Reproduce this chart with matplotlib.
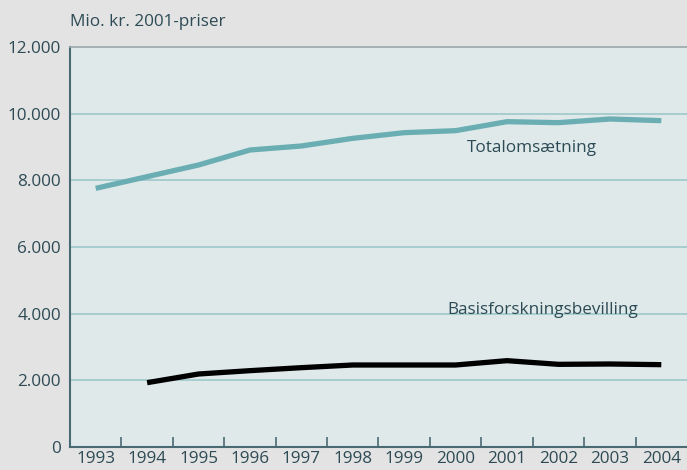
import matplotlib.pyplot as plt

# Data (Mio. kr., 2001-priser)
years = ['1993', '1994', '1995', '1996', '1997', '1998', '1999', '2000',
         '2001', '2002', '2003', '2004']
total = [7760, 8110, 8460, 8910, 9030, 9260, 9430, 9490, 9760, 9730, 9840, 9790]
basis_years = years[1:]
basis = [1930, 2190, 2290, 2380, 2460, 2460, 2460, 2590, 2480, 2490, 2470]

yticks = [0, 2000, 4000, 6000, 8000, 10000, 12000]
ytick_labels = ['0', '2.000', '4.000', '6.000', '8.000', '10.000', '12.000']

plt.rcParams['font.family'] = ['Open Sans', 'DejaVu Sans']
txt = '#2d4b55'
teal = '#6aaeb3'
fs = 12.3

fig = plt.figure(figsize=(6.87, 4.70), dpi=100, facecolor='#e3e3e3')
ax = fig.add_axes([70 / 687, 23 / 470, 1 - 70 / 687, 400 / 470])
ax.set_facecolor('#dfe9ea')

x = list(range(len(years)))
xb = [years.index(y) for y in basis_years]

# gitterlinjer
for v in yticks[1:-1]:
    ax.axhline(v, color='#9cc8ca', lw=1.2, zorder=1)

ax.plot(x, total, color=teal, lw=3.8, solid_capstyle='butt', zorder=3)
ax.plot(xb, basis, color='black', lw=3.8, solid_capstyle='butt', zorder=3)

ax.set_xlim(-0.5, len(years) - 0.5)
ax.set_ylim(0, 12000)

ax.set_yticks(yticks)
ax.set_yticklabels(ytick_labels)
ax.tick_params(axis='y', length=0, pad=6.5, labelsize=fs, labelcolor=txt)

# årstal midt i hvert interval, tick-streger på grænserne
ax.set_xticks(x)
ax.set_xticklabels(years)
ax.tick_params(axis='x', which='major', length=0, pad=3, labelsize=fs, labelcolor=txt)
ax.set_xticks([i + 0.5 for i in x[:-1]], minor=True)
ax.tick_params(axis='x', which='minor', direction='in', length=7, width=1.2, color='#4a6a73')

for s in ['left', 'bottom']:
    ax.spines[s].set_color('#4a6a73')
    ax.spines[s].set_linewidth(1.5)
ax.spines['top'].set_color('#9aa6a8')
ax.spines['top'].set_linewidth(1.2)
ax.spines['right'].set_visible(False)

ax.text(7.22, 8970, 'Totalomsætning', color=txt, fontsize=fs, va='center', ha='left')
ax.text(6.83, 4110, 'Basisforskningsbevilling', color=txt, fontsize=fs, va='center', ha='left')

fig.text(70 / 687, 1 - 22 / 470, 'Mio. kr. 2001-priser', color=txt, fontsize=fs,
         va='center', ha='left')

fig.savefig('out.png', dpi=100, facecolor=fig.get_facecolor())
